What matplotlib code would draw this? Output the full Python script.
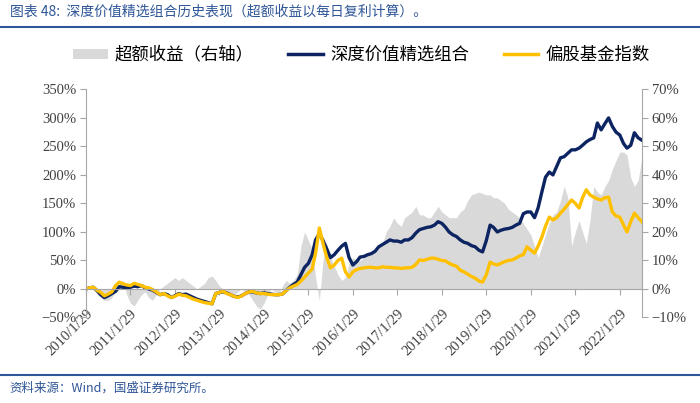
import matplotlib.pyplot as plt
from matplotlib.patches import Patch
from matplotlib.lines import Line2D
import pandas as pd

plt.rcParams['font.family'] = ['Noto Sans CJK SC', 'DejaVu Sans']

# 月度数据 2010/1/29 - 2022/7/29
dates = pd.date_range('2010-01-01', periods=151, freq='MS') + pd.Timedelta(days=28)

# 深度价值精选组合 (左轴, %)
portfolio = [
    0, 2, 3, -3, -10, -15, -12, -8, -4, 4, 3, 2,
    3, 5, 4, 6, 2, 0, -2, -6, -10, -8, -10, -15,
    -12, -8, -10, -9, -12, -15, -18, -20, -22, -24, -26, -8,
    -6, -5, -7, -10, -13, -14, -12, -8, -5, -5, -7, -8,
    -7, -8, -9, -10, -10, -9, -3, 3, 8, 12, 25, 38,
    45, 60, 86, 97, 85, 70, 55, 60, 68, 75, 80, 55,
    42, 48, 56, 57, 60, 62, 66, 74, 78, 82, 86, 84,
    84, 82, 86, 86, 90, 98, 104, 106, 108, 109, 112, 118,
    115, 108, 100, 95, 92, 86, 82, 80, 76, 74, 68, 65,
    85, 112, 108, 100, 103, 105, 106, 108, 112, 115, 132, 135,
    135, 125, 142, 170, 196, 205, 200, 215, 230, 232, 238, 244,
    244, 247, 252, 258, 262, 265, 291, 279, 290, 300, 285, 275,
    270, 255, 247, 252, 274, 265, 261,
]

# 偏股基金指数 (左轴, %)
fund_index = [
    0, 2, 3, -2, -6, -12, -9, -5, 6, 12, 9, 7,
    6, 10, 8, 6, 3, 2, -1, -5, -10, -8, -12, -15,
    -13, -9, -11, -12, -15, -18, -20, -22, -24, -25, -26, -8,
    -6, -4, -8, -10, -13, -15, -12, -8, -5, -4, -7, -8,
    -8, -9, -10, -10, -10, -9, -3, 2, 5, 8, 14, 21,
    28, 35, 63, 107, 80, 55, 37, 42, 50, 54, 30, 21,
    30, 34, 36, 37, 38, 38, 37, 37, 39, 38, 38, 37,
    37, 36, 37, 37, 38, 43, 51, 50, 52, 54, 54, 52,
    50, 49, 45, 42, 40, 33, 30, 26, 22, 19, 14, 12,
    25, 47, 44, 42, 45, 48, 50, 51, 54, 58, 60, 74,
    68, 63, 75, 91, 110, 126, 121, 125, 133, 140, 148, 156,
    150, 142, 160, 174, 165, 161, 158, 156, 160, 161, 135, 128,
    126, 112, 100, 118, 133, 125, 118,
]

# 超额收益 (右轴, %)
excess = [
    0, 0, 1, -1, -3, -4, -4, -3, -1, 2, 3, -2,
    -5, -6, -4, -2, -1, -3, -4, -2, 0, 1, 2, 3,
    4, 3, 4, 3, 2, 1, 0, 1, 2, 4, 4.5, 3,
    1, 0, -1, -2, -2, -1, 0, -1, -2, -4, -6, -7,
    -5, -2, 0, -1, -2, 1, 3, 2, 3, 5, 15, 20,
    17, 14, 4, -4, 10, 16, 11, 8, 5, 3, 4, 9,
    11, 10, 10, 11, 12, 12, 13, 14, 16, 20, 22, 25,
    23, 22, 25, 26, 27, 29, 26, 26, 25, 25, 27, 29,
    27, 26, 25, 25, 25, 27, 28, 31, 33, 33.5, 34, 33.5,
    33, 33, 32, 32, 31, 30, 28, 27, 26, 25, 23, 21,
    19, 15, 11, 15, 19, 23, 26, 27, 31, 36, 32, 15,
    20, 24, 20, 16, 24, 36, 34, 33, 36, 38, 42, 45,
    48, 48, 47, 39, 36, 38, 46,
]

tick_years = list(range(2010, 2023))
left_ticks = list(range(-50, 351, 50))
right_ticks = list(range(-10, 71, 10))

navy = '#0C2461'
gold = '#FFC000'
shade = '#D9D9D9'
axis_grey = '#A6A6A6'
text_grey = '#404040'
blue = '#2E5597'
serif = 'Liberation Serif'

fig = plt.figure(figsize=(7, 4.03), dpi=100)
ax = fig.add_axes([0.1229, 0.2122, 0.794, 0.566])
ax2 = ax.twinx()

# 先设置坐标轴位置, 否则会重置刻度标签
for s in ['top', 'right']:
    ax.spines[s].set_visible(False)
for s in ['top', 'left', 'bottom']:
    ax2.spines[s].set_visible(False)
ax.spines['bottom'].set_position(('data', 0))
ax.spines['bottom'].set_color(axis_grey)
ax.spines['left'].set_color(axis_grey)
ax2.spines['right'].set_color(axis_grey)

ax2.fill_between(dates, excess, 0, color=shade, lw=0)
ax.set_zorder(ax2.get_zorder() + 1)
ax.patch.set_visible(False)

ax.plot(dates, portfolio, color=navy, lw=2.4)
ax.plot(dates, fund_index, color=gold, lw=2.4)

ax.set_xlim(dates[0], dates[-1])
ax.set_ylim(-50, 350)
ax2.set_ylim(-10, 70)

ax.set_yticks(left_ticks)
ax.set_yticklabels([f'{v}%'.replace('-', '−') for v in left_ticks],
                   fontfamily=serif, fontsize=10.5, color=text_grey)
ax2.set_yticks(right_ticks)
ax2.set_yticklabels([f'{v}%'.replace('-', '−') for v in right_ticks],
                    fontfamily=serif, fontsize=10.5, color=text_grey)

ax.set_xticks([pd.Timestamp(f'{y}-01-29') for y in tick_years])
ax.set_xticklabels([f'{y}/1/29' for y in tick_years], rotation=45, ha='right',
                   rotation_mode='anchor', fontfamily=serif, fontsize=10.5,
                   color=text_grey)

ax.tick_params(axis='x', direction='out', length=4, pad=9, color=axis_grey)
ax.tick_params(axis='y', direction='out', length=4, pad=3, color=axis_grey)
ax2.tick_params(axis='y', direction='out', length=4, pad=3, color=axis_grey)

handles = [Patch(facecolor=shade, edgecolor='none'),
           Line2D([], [], color=navy, lw=2.5),
           Line2D([], [], color=gold, lw=2.5)]
labels = ['超额收益（右轴）', '深度价值精选组合', '偏股基金指数']
fig.legend(handles, labels, loc='center', bbox_to_anchor=(0.516, 0.864), ncol=3,
           frameon=False, fontsize=12.5, handlelength=2.0, handleheight=0.5,
           handletextpad=0.4, columnspacing=2.0)

fig.text(0.014, 0.97, '图表 48:  深度价值精选组合历史表现（超额收益以每日复利计算）。',
         color=blue, fontsize=10, style='italic', va='center')
fig.add_artist(Line2D([0, 1], [0.933, 0.933], color=blue, lw=1.5))
fig.add_artist(Line2D([0, 1], [0.0695, 0.0695], color=blue, lw=1.5))
fig.text(0.014, 0.037, '资料来源：Wind，国盛证券研究所。',
         color=blue, fontsize=9, style='italic', va='center')

fig.savefig('out.png', dpi=100)
